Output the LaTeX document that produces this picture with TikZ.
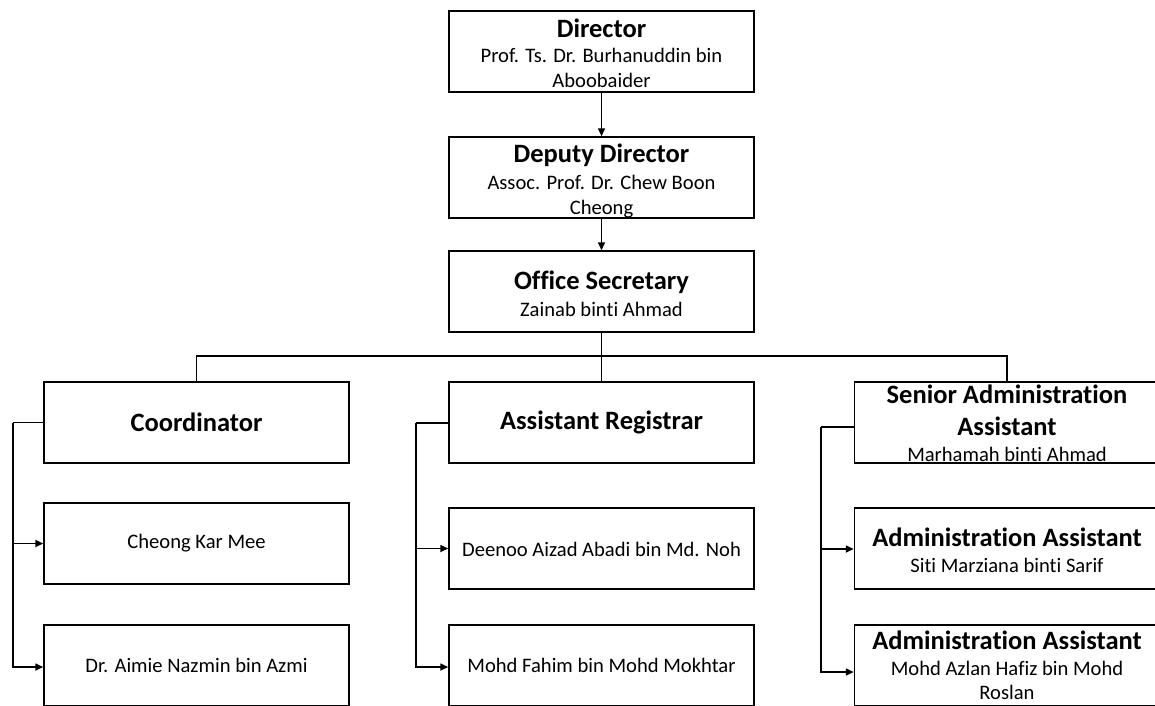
\documentclass[tikz,border=0pt]{standalone}
\usepackage{fontspec}
\setmainfont{Carlito}[RawFeature={-liga}]
\usetikzlibrary{arrows.meta}
\newcommand\ttl{\fontsize{26.5}{26}\selectfont\bfseries}
\begin{document}
\begin{tikzpicture}[x=1pt,y=-1pt,
  box/.style={draw=black,line width=1.5pt,minimum width=305pt,minimum height=81pt,inner sep=0pt},
  txt/.style={inner sep=0pt,align=center,font=\fontsize{20.6}{25}\selectfont},
  conn/.style={draw=black,line width=1.6pt},
  arr/.style={conn,-{Triangle[length=8pt,width=7pt]}}]
\useasboundingbox (0,0) rectangle (1155,705);
\clip (0,0) rectangle (1155,705);
\fill[white] (0,0) rectangle (1155,705);
% boxes
\node[box] (dir) at (601.5,51.5) {};
\node[box] (dep) at (601.5,177.5) {};
\node[box] (off) at (601.5,291.5) {};
\node[box] (crd) at (196.5,422.5) {};
\node[box] (ar)  at (601.5,422.5) {};
\node[box] (sen) at (1007,422.5) {};
\node[box] (c1)  at (196.5,543.5) {};
\node[box] (c2)  at (196.5,665.5) {};
\node[box] (a1)  at (601.5,548.5) {};
\node[box] (a2)  at (601.5,665.5) {};
\node[box] (s1)  at (1007,548.5) {};
\node[box] (s2)  at (1007,665.5) {};
% texts
\node[txt,yshift=-2pt] at (dir.center) {{\ttl Director}\\Prof. Ts. Dr. Burhanuddin bin\\Aboobaider};
\node[txt,yshift=-3.5pt] at (dep.center) {{\ttl Deputy Director}\\[2pt]Assoc. Prof. Dr. Chew Boon\\Cheong};
\node[txt,yshift=-2pt] at (off.center) {{\ttl Office Secretary}\\[2pt]Zainab binti Ahmad};
\node[txt] at (crd.center) {{\ttl Coordinator}};
\node[txt] at (ar.center) {{\ttl Assistant Registrar}};
\node[txt,yshift=-0.5pt] at (sen.center) {{\ttl Senior Administration}\\[7pt]{\ttl Assistant}\\[1pt]Marhamah binti Ahmad};
\node[txt] at (c1.center) {Cheong Kar Mee};
\node[txt] at (c2.center) {Dr. Aimie Nazmin bin Azmi};
\node[txt,yshift=-1pt] at (a1.center) {Deenoo Aizad Abadi bin Md. Noh};
\node[txt] at (a2.center) {Mohd Fahim bin Mohd Mokhtar};
\node[txt,yshift=-1.5pt] at (s1.center) {{\ttl Administration Assistant}\\[1pt]Siti Marziana binti Sarif};
\node[txt,yshift=0pt] at (s2.center) {{\ttl Administration Assistant}\\[1pt]Mohd Azlan Hafiz bin Mohd\\[-1pt]Roslan};
% vertical chain
\draw[arr] (dir.south) -- (dep.north);
\draw[arr] (dep.south) -- (off.north);
% bus
\coordinate (bus) at (601.5,356);
\draw[conn] (off.south) -- (bus) -- (ar.north);
\draw[conn] (crd.north) |- (bus) -| (sen.north);
% left group
\draw[conn] (crd.west) -- ++(-30,0) coordinate (lx);
\draw[arr] (lx) |- (c1.west);
\draw[arr] (lx) |- ([yshift=-1.5pt]c2.west);
% middle group
\draw[conn] ([yshift=-0.5pt]ar.west) -- ++(-32,0) coordinate (mx);
\draw[arr] (mx) |- (a1.west);
\draw[arr] (mx) |- ([yshift=-1.5pt]a2.west);
% right group
\draw[conn] ([yshift=-4.5pt]sen.west) -- ++(-33,0) coordinate (rx);
\draw[arr] (rx) |- ([yshift=-0.5pt]s1.west);
\draw[arr] (rx) |- ([yshift=-6.5pt]s2.west);
\end{tikzpicture}
\end{document}
